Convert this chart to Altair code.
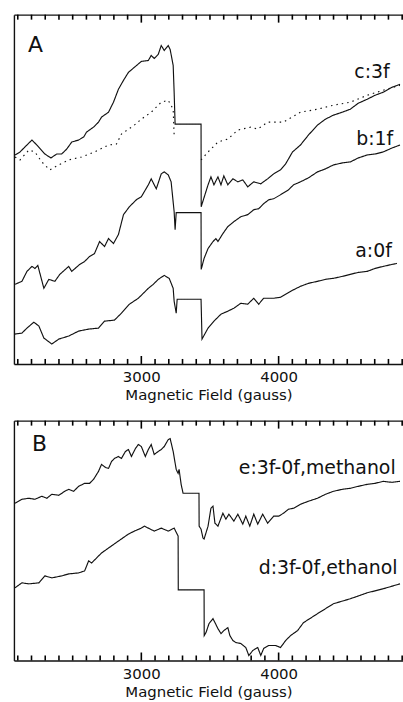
import altair as alt
import pandas as pd

FONT = "DejaVu Sans"
INK = "#111111"

# ---------------- Panel A data (field in gauss, signal in arbitrary units) ----------------
C_G = [2080, 2116, 2152, 2203, 2239, 2297, 2341, 2384, 2420, 2457, 2493, 2543, 2580, 2601, 2652, 2688, 2710, 2761,
       2797, 2833, 2870, 2906, 2957, 3000, 3051, 3072, 3094, 3123, 3145, 3167, 3196, 3210, 3232, 3239, 3246, 3435,
       3436, 3486, 3507, 3529, 3558, 3580, 3601, 3630, 3667, 3703, 3739, 3775, 3819, 3870, 3920, 3964, 4014, 4051,
       4101, 4159, 4217, 4283, 4341, 4399, 4464, 4522, 4580, 4645, 4703, 4761, 4826, 4884]
C_V = [210, 213, 218, 225, 220, 211, 207, 211, 211, 216, 223, 225, 228, 233, 238, 243, 248, 253,
       263, 276, 285, 293, 299, 304, 305, 310, 307, 311, 320, 315, 320, 316, 300, 273, 241, 241,
       158, 180, 188, 180, 188, 180, 189, 180, 186, 183, 185, 178, 183, 181, 186, 191, 195, 201,
       213, 220, 230, 240, 246, 250, 253, 256, 262, 266, 270, 273, 278, 281]

DOT1_G = [2080, 2116, 2181, 2225, 2275, 2333, 2399, 2471, 2565, 2659, 2761, 2819, 2855, 2949, 3000, 3072, 3145,
          3196, 3232, 3239]
DOT1_V = [208, 205, 215, 213, 203, 195, 200, 205, 208, 213, 220, 221, 231, 240, 246, 253, 263,
          265, 256, 230]
DOT2_G = [3435, 3486, 3558, 3630, 3703, 3797, 3848, 3920, 3993, 4036, 4159, 4283, 4399, 4522, 4645, 4761, 4884]
DOT2_V = [205, 213, 223, 226, 235, 238, 236, 243, 243, 243, 253, 256, 260, 263, 270, 275, 280]

B_G = [2080, 2130, 2167, 2203, 2225, 2246, 2290, 2326, 2370, 2406, 2471, 2493, 2551, 2587, 2623, 2659, 2696, 2732,
       2761, 2797, 2833, 2870, 2913, 2964, 3000, 3051, 3072, 3094, 3109, 3145, 3167, 3196, 3217, 3239, 3246, 3254,
       3435, 3436, 3457, 3486, 3522, 3543, 3558, 3594, 3630, 3674, 3725, 3775, 3819, 3855, 3891, 3928, 3964, 4014,
       4072, 4109, 4159, 4217, 4283, 4341, 4399, 4464, 4522, 4580, 4645, 4703, 4761, 4826, 4884]
B_V = [80, 83, 93, 98, 96, 99, 76, 85, 83, 90, 98, 93, 100, 103, 108, 111, 123, 118,
       126, 121, 130, 150, 158, 165, 168, 180, 186, 180, 176, 191, 193, 190, 183, 153, 135, 152,
       152, 95, 106, 116, 123, 126, 123, 131, 138, 143, 148, 150, 155, 156, 161, 165, 166, 170,
       175, 180, 183, 187, 193, 196, 200, 202, 203, 207, 210, 211, 213, 217, 220]

A_G = [2080, 2130, 2167, 2217, 2254, 2290, 2348, 2399, 2471, 2543, 2616, 2688, 2732, 2804, 2855, 2913, 2978, 3051,
       3087, 3123, 3167, 3203, 3232, 3239, 3254, 3261, 3435, 3442, 3486, 3529, 3580, 3630, 3674, 3725, 3775, 3819,
       3855, 3891, 3964, 4014, 4051, 4101, 4159, 4217, 4283, 4341, 4399, 4464, 4522, 4580, 4645, 4703, 4761, 4826,
       4862]
A_V = [30, 31, 36, 42, 38, 26, 20, 25, 28, 33, 35, 36, 43, 44, 51, 60, 66, 76,
       80, 85, 89, 86, 76, 63, 51, 65, 65, 25, 36, 43, 50, 53, 56, 61, 60, 66,
       60, 66, 66, 67, 70, 74, 78, 81, 83, 85, 86, 88, 90, 92, 93, 96, 98, 100,
       101]

# ---------------- Panel B data ----------------
E_G = [2080, 2130, 2181, 2225, 2275, 2312, 2348, 2399, 2442, 2471, 2507, 2543, 2587, 2623, 2652, 2688, 2710, 2739,
       2761, 2783, 2804, 2833, 2855, 2884, 2906, 2928, 2957, 2978, 3000, 3029, 3051, 3072, 3094, 3123, 3145, 3167,
       3196, 3210, 3232, 3254, 3268, 3275, 3290, 3304, 3420, 3421, 3435, 3449, 3457, 3486, 3507, 3522, 3536, 3558,
       3594, 3616, 3638, 3674, 3703, 3739, 3761, 3790, 3819, 3848, 3884, 3920, 3964, 4000, 4036, 4072, 4109, 4159,
       4217, 4283, 4341, 4399, 4464, 4522, 4580, 4645, 4703, 4761, 4826, 4884]
E_V = [158, 162, 163, 162, 165, 163, 167, 166, 170, 172, 170, 175, 178, 178, 182, 190, 197, 194,
       193, 200, 203, 205, 203, 210, 212, 205, 213, 217, 215, 205, 212, 217, 207, 210, 212, 215,
       222, 223, 210, 192, 188, 192, 177, 168, 168, 135, 132, 123, 122, 135, 153, 155, 138, 135,
       148, 142, 147, 140, 147, 137, 145, 135, 147, 137, 147, 138, 145, 145, 148, 152, 153, 157,
       160, 163, 167, 170, 172, 173, 175, 177, 178, 180, 179, 180]

D_G = [2080, 2130, 2181, 2254, 2297, 2348, 2420, 2471, 2543, 2587, 2616, 2638, 2710, 2761, 2833, 2906, 2949, 3000,
       3022, 3094, 3145, 3196, 3239, 3268, 3269, 3457, 3458, 3471, 3493, 3522, 3558, 3580, 3601, 3630, 3645, 3667,
       3688, 3725, 3761, 3783, 3812, 3848, 3870, 3891, 3928, 3978, 4014, 4051, 4087, 4138, 4181, 4283, 4399, 4522,
       4645, 4761, 4884]
D_V = [73, 78, 77, 78, 85, 83, 85, 87, 88, 90, 100, 98, 108, 113, 120, 127, 130, 133,
       135, 130, 133, 130, 133, 125, 71, 71, 25, 28, 37, 42, 32, 27, 30, 33, 25, 20,
       18, 17, 13, 5, 10, 13, 5, 12, 15, 15, 13, 20, 25, 30, 38, 47, 57, 62,
       68, 72, 77]

# ---------------- Labels ----------------
LAB_A_TEXT = ["c:3f", "b:1f", "a:0f"]
LAB_A_G = [4551, 4565, 4558]
LAB_A_V = [293, 226, 113]
LAB_B_TEXT = ["e:3f-0f,methanol", "d:3f-0f,ethanol"]
LAB_B_G = [3710, 3855]
LAB_B_V = [193, 93]
PANEL_TEXT = ["A", "B"]
PANEL_G = [2174, 2203]
PANEL_V = [320, 217]

XDOM = [2072, 4906]
MAJOR = [3000, 4000]
MINOR = [g for g in range(2100, 4901, 100) if g not in MAJOR]
W = 391
HA, HB = 351, 241
MINOR_LEN, MAJOR_LEN = 5, 8   # tick lengths (1 signal unit = 1 px in both panels)


def series(name, gs, vs, dash="solid"):
    assert len(gs) == len(vs), name
    return pd.DataFrame({"g": gs, "v": vs, "series": name, "dash": dash, "i": list(range(len(gs)))})


dfA = pd.concat([
    series("c", C_G, C_V),
    series("dot1", DOT1_G, DOT1_V, "dot"),
    series("dot2", DOT2_G, DOT2_V, "dot"),
    series("b", B_G, B_V),
    series("a", A_G, A_V),
], ignore_index=True)
dfB = pd.concat([series("e", E_G, E_V), series("d", D_G, D_V)], ignore_index=True)

labA = pd.DataFrame({"g": LAB_A_G, "v": LAB_A_V, "t": LAB_A_TEXT})
labB = pd.DataFrame({"g": LAB_B_G, "v": LAB_B_V, "t": LAB_B_TEXT})
letA = pd.DataFrame({"g": [PANEL_G[0]], "v": [PANEL_V[0]], "t": [PANEL_TEXT[0]]})
letB = pd.DataFrame({"g": [PANEL_G[1]], "v": [PANEL_V[1]], "t": [PANEL_TEXT[1]]})


def tick_frame(ymax):
    rows = []
    for g in MINOR + MAJOR:
        ln = MAJOR_LEN if g in MAJOR else MINOR_LEN
        rows.append({"g": g, "v": 0, "v2": ln})
        rows.append({"g": g, "v": ymax, "v2": ymax - ln})
    return pd.DataFrame(rows)


def panel(df, lab, let, ymax, h):
    xs = alt.Scale(domain=XDOM, nice=False, zero=False)
    ys = alt.Scale(domain=[0, ymax], nice=False, zero=False)
    main = alt.Chart(df).mark_line(color=INK, strokeWidth=1.15).encode(
        x=alt.X("g:Q", scale=xs, axis=alt.Axis(
            orient="bottom", values=MAJOR, format="d", ticks=False, domain=True,
            domainColor=INK, domainWidth=1.4, labelFont=FONT, labelFontSize=15,
            labelColor=INK, labelPadding=6, title="Magnetic Field (gauss)",
            titleFont=FONT, titleFontSize=15, titleFontWeight="normal",
            titleColor=INK, titlePadding=3, grid=False)),
        y=alt.Y("v:Q", scale=ys, axis=alt.Axis(
            orient="left", domain=True, domainColor=INK, domainWidth=1.4,
            ticks=False, labels=False, title=None, grid=False)),
        detail="series:N",
        order="i:Q",
        strokeDash=alt.StrokeDash("dash:N", scale=alt.Scale(domain=["solid", "dot"],
                                                             range=[[1, 0], [1.5, 4]]), legend=None),
    )
    top_frame = alt.Chart(df).mark_line(opacity=0).encode(
        x=alt.X("g:Q", scale=xs, axis=alt.Axis(orient="top", domain=True, domainColor=INK, domainWidth=1.4,
                                               ticks=False, labels=False, title=None, grid=False)),
        y=alt.Y("v:Q", scale=ys, axis=None))
    ticks = alt.Chart(tick_frame(ymax)).mark_rule(color="#000000", strokeWidth=1.6).encode(
        x=alt.X("g:Q", scale=xs, axis=None),
        y=alt.Y("v:Q", scale=ys, axis=None),
        y2="v2:Q")
    texts = alt.Chart(lab).mark_text(align="left", baseline="middle", font=FONT, fontSize=19,
                                     color=INK, clip=True).encode(
        x=alt.X("g:Q", scale=xs, axis=None), y=alt.Y("v:Q", scale=ys, axis=None), text="t:N")
    letter = alt.Chart(let).mark_text(align="left", baseline="middle", font=FONT, fontSize=22,
                                      color=INK).encode(
        x=alt.X("g:Q", scale=xs, axis=None), y=alt.Y("v:Q", scale=ys, axis=None), text="t:N")
    return alt.layer(main, top_frame, ticks, texts, letter).resolve_axis(
        x="independent", y="independent").properties(width=W, height=h)


chart = alt.vconcat(panel(dfA, labA, letA, HA, HA), panel(dfB, labB, letB, HB, HB), spacing=17).properties(
    padding={"left": 12, "top": 12, "right": 0, "bottom": 0}
).configure_view(stroke=None)

chart.save("out.html", embed_options={"renderer": "svg", "actions": False})
